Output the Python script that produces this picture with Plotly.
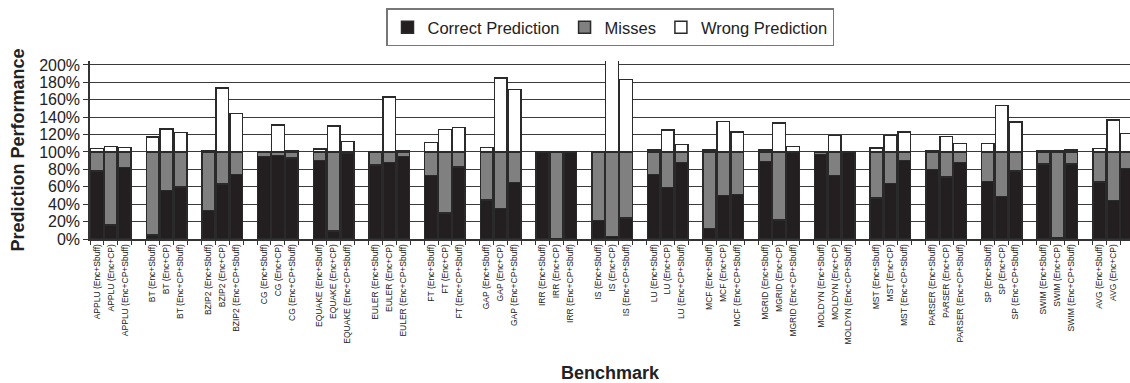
import plotly.graph_objects as go

benchmarks = ["APPLU", "BT", "BZIP2", "CG", "EQUAKE", "EULER", "FT", "GAP", "IRR",
              "IS", "LU", "MCF", "MGRID", "MOLDYN", "MST", "PARSER", "SP", "SWIM", "AVG"]
configs = ["(Enc+Sbuff)", "(Enc+CP)", "(Enc+CP+Sbuff)"]

# values in percent, one triple (Enc+Sbuff, Enc+CP, Enc+CP+Sbuff) per benchmark
correct = [
    [78, 16, 82], [4.5, 56, 60], [33, 63, 74], [95, 96, 93], [90, 9, 98],
    [85, 88, 95], [73, 30, 83], [45, 35, 65], [100, 0.5, 100], [21, 3, 24],
    [74, 59, 88], [12, 50, 51], [89, 22, 99.5], [97, 73, 100], [47, 64, 90],
    [80, 71, 88], [66, 49, 78], [86, 2, 86], [65.5, 44, 81],
]
misses = [
    [22, 84, 18], [95.5, 44, 40], [67, 37, 26], [5, 4, 7], [10, 91, 2],
    [15, 12, 5], [27, 70, 17], [55, 65, 35], [0, 99.5, 0], [79, 97, 76],
    [26, 41, 12], [88, 50, 49], [11, 78, 0.5], [3, 27, 0], [53, 36, 10],
    [20, 29, 12], [34, 51, 22], [14, 98, 14], [34.5, 56, 19],
]
wrong = [
    [4, 6, 5], [17, 26.5, 22.5], [1.5, 73.5, 44], [0.5, 31, 1], [3.5, 30, 12],
    [0.5, 63, 1.5], [11, 26, 28], [5, 85, 72], [0, 0, 0], [0, 120, 83],
    [2.5, 25, 8.5], [2.5, 35, 23], [2, 33, 6], [0.8, 19, 0.5], [4.5, 19, 23],
    [1.5, 18, 10], [10, 53.5, 34.5], [1.5, 1.5, 2.3], [4, 37, 21],
]
y_ticks = [0, 20, 40, 60, 80, 100, 120, 140, 160, 180, 200]

# slot positions: 3 bars per benchmark, then one empty slot
xs, labels, c_vals, m_vals, w_vals = [], [], [], [], []
for g, b in enumerate(benchmarks):
    for k, cfg in enumerate(configs):
        xs.append(g * 4 + k)
        labels.append(f"{b} {cfg}")
        c_vals.append(correct[g][k])
        m_vals.append(misses[g][k])
        w_vals.append(wrong[g][k])

n_slots = len(benchmarks) * 4
boundaries = [i - 0.5 for i in range(n_slots + 1)]

outline = dict(color="#2a2a2a", width=1.5)
fig = go.Figure()
fig.add_bar(x=xs, y=c_vals, name="Correct Prediction",
            marker=dict(color="#231f20", line=outline))
fig.add_bar(x=xs, y=m_vals, name="Misses",
            marker=dict(color="#808080", line=outline))
fig.add_bar(x=xs, y=w_vals, name="Wrong Prediction",
            marker=dict(color="#ffffff", line=outline))

font_family = "Liberation Sans, Arial, sans-serif"
fig.update_layout(
    width=1130, height=383,
    margin=dict(l=90, r=0, t=61, b=142),
    barmode="stack", bargap=0.09,
    plot_bgcolor="white", paper_bgcolor="white",
    font=dict(family=font_family, color="#222"),
    showlegend=True,
    legend=dict(orientation="h", x=0.5, xanchor="center", y=1.295, yanchor="top",
                bgcolor="white", bordercolor="#777", borderwidth=1.5,
                font=dict(size=16.5, color="#222"), traceorder="normal",
                itemwidth=30),
)
fig.update_xaxes(
    range=[-0.5, 74.21],
    tickmode="array", tickvals=xs, ticktext=labels, tickangle=-90,
    tickfont=dict(size=8.5, color="#222"), ticks="",
    showline=True, linecolor="#333", linewidth=1.5,
    showgrid=False, zeroline=False,
    minor=dict(tickmode="array", tickvals=boundaries, ticks="outside",
               ticklen=4, tickcolor="#333", tickwidth=1, showgrid=False),
    title=dict(text="<b>Benchmark</b>", font=dict(size=18, color="#222"), standoff=26),
)
fig.update_yaxes(
    range=[0, 204.5],
    tickmode="array", tickvals=y_ticks, ticktext=[f"{v}%" for v in y_ticks],
    tickfont=dict(size=16, color="#222"), ticks="outside", ticklen=5,
    tickcolor="#333",
    showline=True, linecolor="#333", linewidth=1.5,
    showgrid=True, gridcolor="#3a3a3a", gridwidth=1, zeroline=False,
    title=dict(text="<b>Prediction Performance</b>", font=dict(size=18, color="#222"),
               standoff=10),
)

fig.write_html("out.html")
